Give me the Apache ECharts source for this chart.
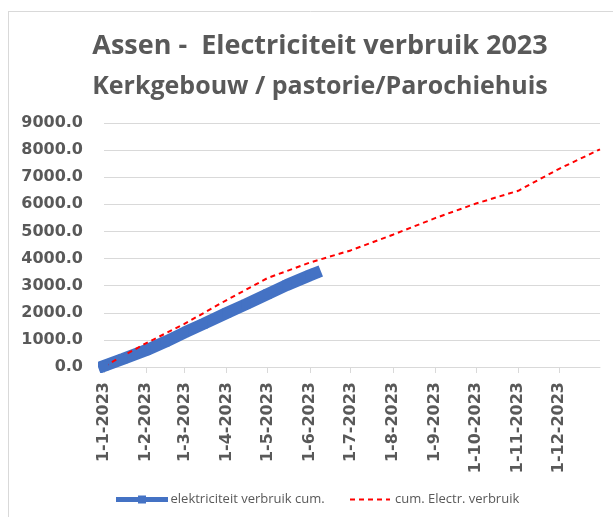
<!DOCTYPE html>
<html>
<head>
<meta charset="utf-8">
<script src="https://cdn.jsdelivr.net/npm/echarts@6/dist/echarts.min.js"></script>
<style>
  html, body { margin: 0; padding: 0; background: #fff; }
  #main { width: 613px; height: 517px; }
</style>
</head>
<body>
<div id="main"></div>
<script>
    // cumulatief verbruik (gemeten) - elektriciteit verbruik cum.
    var blueDates = ['2023-01-01', '2023-01-15', '2023-02-01', '2023-02-15', '2023-03-01', '2023-03-15',
        '2023-04-01', '2023-04-15', '2023-05-01', '2023-05-15', '2023-06-01', '2023-06-05'];
    var blueValues = [40, 300, 620, 930, 1270, 1590, 1990, 2310, 2690, 3020, 3380, 3460];

    // cum. Electr. verbruik (referentie)
    var redDates = ['2023-01-01', '2023-02-01', '2023-03-01', '2023-04-01', '2023-05-01', '2023-06-01',
        '2023-07-01', '2023-08-01', '2023-09-01', '2023-10-01', '2023-11-01', '2023-12-01', '2023-12-31'];
    var redValues = [20, 880, 1590, 2470, 3280, 3850, 4300, 4880, 5490, 6030, 6500, 7310, 8030];

    // tick labels x-as: eerste van elke maand
    var monthTicks = ['2023-01-01', '2023-02-01', '2023-03-01', '2023-04-01', '2023-05-01', '2023-06-01',
        '2023-07-01', '2023-08-01', '2023-09-01', '2023-10-01', '2023-11-01', '2023-12-01'];

    var names = ['elektriciteit verbruik cum.', 'cum. Electr. verbruik'];

    function ts(s) {
        var p = s.split('-');
        return new Date(+p[0], +p[1] - 1, +p[2]).getTime();
    }
    function pairs(dates, vals) {
        return dates.map(function (d, i) { return [ts(d), vals[i]]; });
    }
    var tickTs = monthTicks.map(ts);

    var grey = '#595959';
    var legendText = { color: grey, fontFamily: 'Open Sans', fontSize: 13 };
    var myChart = echarts.init(document.getElementById('main'));
    var option = {
        animation: false,
        backgroundColor: '#fff',
        title: [{
            text: 'Assen -  Electriciteit verbruik 2023',
            left: 315, top: 28, textAlign: 'center',
            textStyle: { color: grey, fontFamily: 'Open Sans', fontWeight: 'bold', fontSize: 27 }
        }, {
            text: 'Kerkgebouw / pastorie/Parochiehuis',
            left: 315, top: 69, textAlign: 'center',
            textStyle: { color: grey, fontFamily: 'Open Sans', fontWeight: 'bold', fontSize: 25 }
        }],
        legend: [{
            bottom: 6, left: 111,
            itemWidth: 47, itemHeight: 10,
            textStyle: legendText,
            data: [{ name: names[0], lineStyle: { width: 5 } }]
        }, {
            bottom: 6, left: 344,
            itemWidth: 40, itemHeight: 10,
            textStyle: legendText,
            data: [{ name: names[1], itemStyle: { opacity: 0 } }]
        }],
        grid: { left: 104, right: 13, top: 123, bottom: 150 },
        xAxis: {
            type: 'value',
            min: ts('2023-01-01'),
            max: ts('2023-12-31'),
            axisLine: { lineStyle: { color: '#d9d9d9' } },
            axisTick: { show: true, length: 6, lineStyle: { color: '#d9d9d9' }, customValues: tickTs },
            splitLine: { show: false },
            axisLabel: {
                customValues: tickTs,
                rotate: 90,
                margin: 15,
                color: grey,
                fontFamily: 'DejaVu Sans',
                fontWeight: 'bold',
                fontSize: 16,
                formatter: function (v) {
                    var d = new Date(v);
                    return d.getDate() + '-' + (d.getMonth() + 1) + '-' + d.getFullYear();
                }
            }
        },
        yAxis: {
            type: 'value',
            min: 0, max: 9000, interval: 1000,
            axisLine: { show: false },
            axisTick: { show: false },
            splitLine: { lineStyle: { color: '#d9d9d9' } },
            axisLabel: {
                margin: 21,
                color: grey,
                fontFamily: 'DejaVu Sans',
                fontWeight: 'bold',
                fontSize: 16,
                formatter: function (v) { return v.toFixed(1); }
            }
        },
        graphic: [
            { type: 'line', shape: { x1: 8.5, y1: 11, x2: 8.5, y2: 517 }, style: { stroke: '#d9d9d9', lineWidth: 1 } },
            { type: 'line', shape: { x1: 8, y1: 11.5, x2: 613, y2: 11.5 }, style: { stroke: '#d9d9d9', lineWidth: 1 } }
        ],
        series: [{
            name: names[0],
            type: 'line',
            data: pairs(blueDates, blueValues),
            symbol: 'rect',
            symbolSize: 9,
            showSymbol: true,
            itemStyle: { color: '#4472C4' },
            lineStyle: { color: '#4472C4', width: 12, cap: 'square' }
        }, {
            name: names[1],
            type: 'line',
            data: pairs(redDates, redValues),
            symbol: 'none',
            itemStyle: { color: '#FF0000' },
            lineStyle: { color: '#FF0000', width: 2, type: [5, 4] }
        }]
    };
    myChart.setOption(option);
</script>
</body>
</html>
